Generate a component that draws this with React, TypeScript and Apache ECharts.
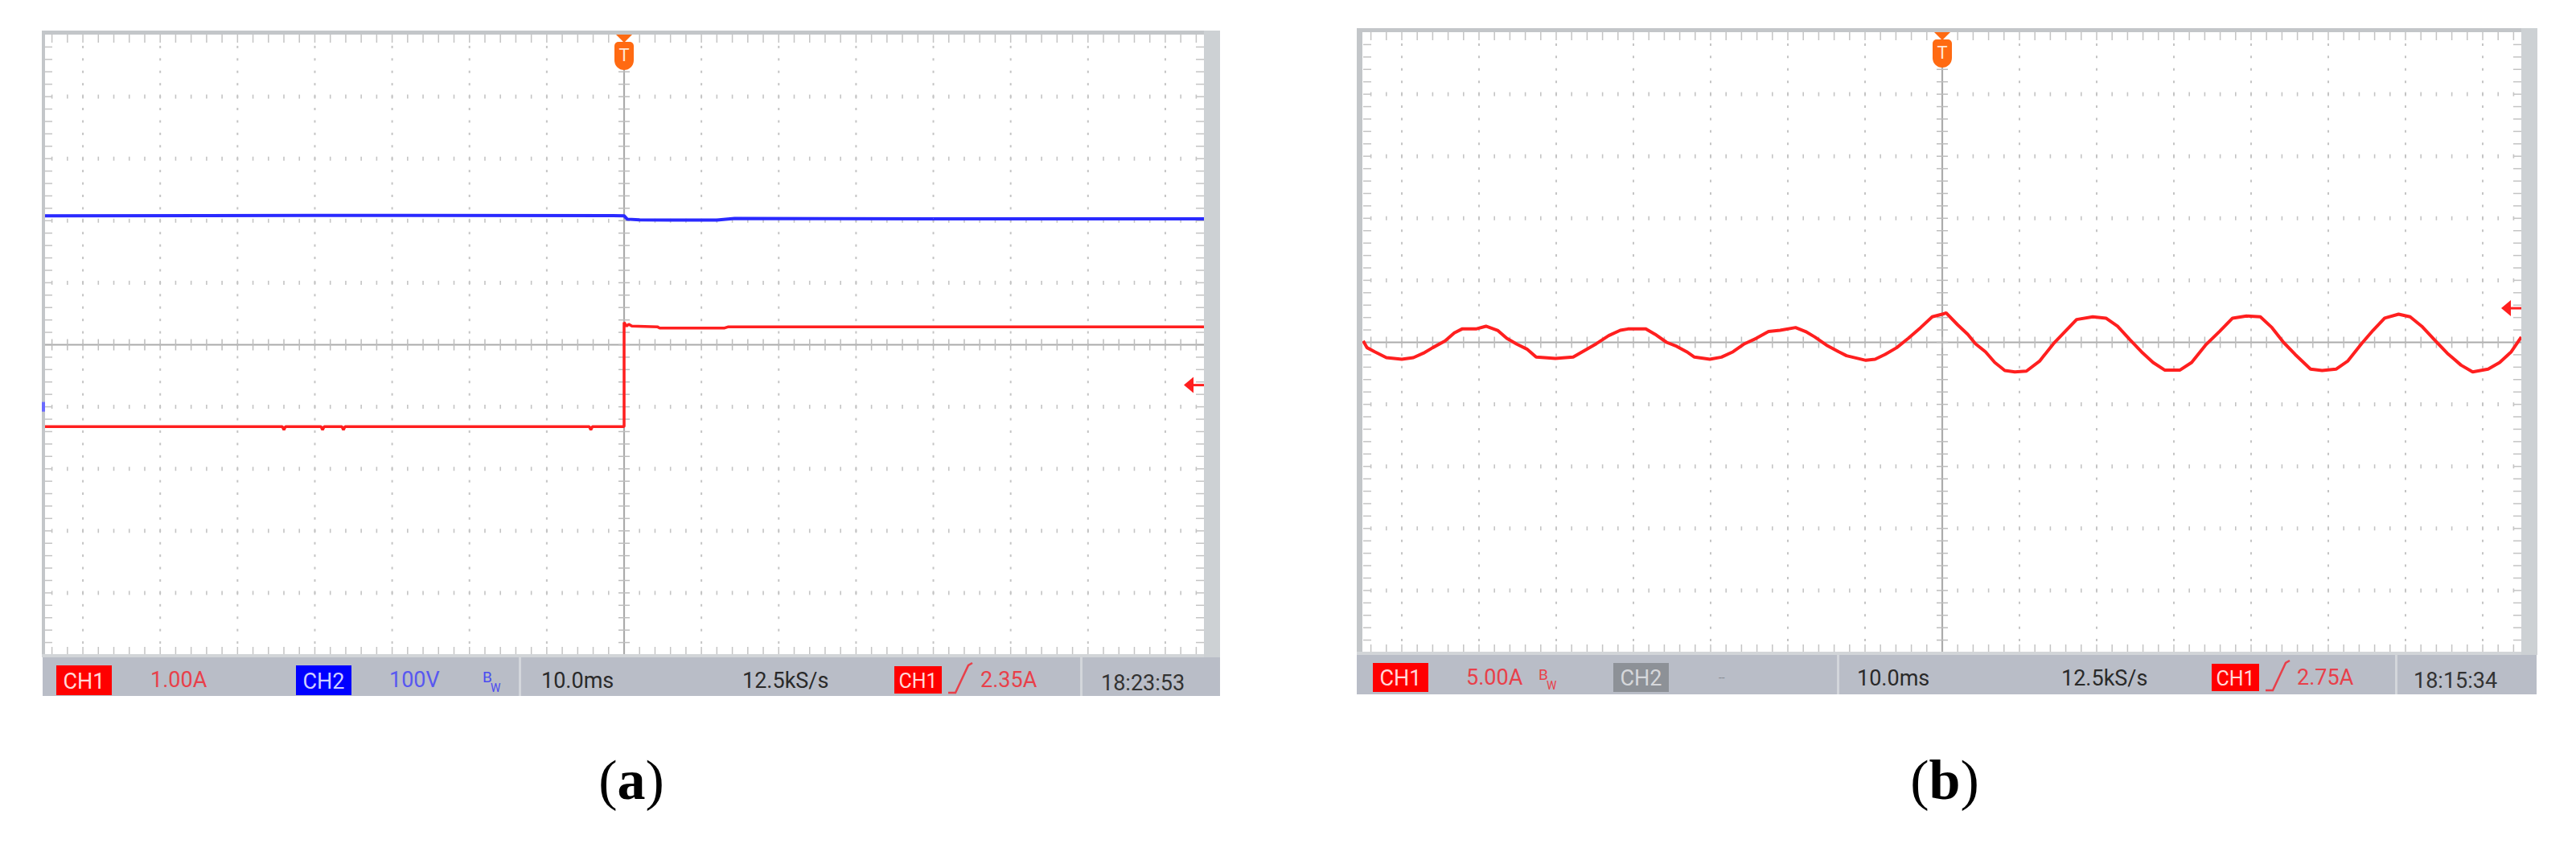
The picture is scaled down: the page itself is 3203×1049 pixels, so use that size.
import React, { useEffect, useRef } from "react";
import * as echarts from "echarts";

// ---------- data ----------
// time axis: 10.0 ms/div, 15 divisions, trigger at 0 ms
const TIME_MIN = -75;
const TIME_MAX = 75;
// graticule in divisions
const DIV_X_MIN = -7.5;
const DIV_X_MAX = 7.5;
const DIV_Y_MIN = -5;
const DIV_Y_MAX = 5;
const MAJOR_X_DIV = [-7, -6, -5, -4, -3, -2, -1, 1, 2, 3, 4, 5, 6, 7];
const MAJOR_Y_DIV = [-4, -3, -2, -1, 1, 2, 3, 4];
const MINOR_DIV = 0.2;

// panel (a): CH1 1.00 A/div (ground 3 div below centre), CH2 100 V/div (ground 1 div below centre)
const CH1_A_MIN = -2;
const CH1_A_MAX = 8;
const CH2_A_MIN = -400;
const CH2_A_MAX = 600;
const CH2_A_GROUND = 0;
const TRIG_LEVEL_A = 2.35;

// CH2 voltage (V) vs time (ms)
const CH2_A: [number, number][] = [
  [-75, 308], [-40, 308.5], [0, 308], [0.4, 302.5], [2, 301.5], [6, 301],
  [12, 301], [14.3, 303.5], [40, 303], [75, 303],
];
// CH1 current (A) vs time (ms)
const CH1_A: [number, number][] = [
  [-75, 1.68], [-44.2, 1.68], [-44, 1.63], [-43.8, 1.68], [-39.2, 1.68], [-39, 1.63],
  [-38.8, 1.68], [-36.5, 1.68], [-36.3, 1.63], [-36.1, 1.68], [-4.5, 1.68], [-4.3, 1.63],
  [-4.1, 1.68], [0, 1.68], [0, 3.36], [0.3, 3.3], [0.6, 3.33], [1, 3.3], [4.3, 3.29],
  [4.6, 3.27], [13, 3.27], [13.5, 3.29], [75, 3.29],
];

// panel (b): CH1 5.00 A/div, ground at centre
const CH1_B_MIN = -25;
const CH1_B_MAX = 25;
const TRIG_LEVEL_B = 2.75;
const CH1_B: [number, number][] = [
  [-75, 0.11], [-74.5, -0.43], [-73.5, -0.76], [-72.0, -1.23], [-70.0, -1.36], [-68.5, -1.23],
  [-67.2, -0.87], [-66.0, -0.43], [-64.4, 0.11], [-63.2, 0.76], [-62.2, 1.08], [-60.4, 1.08],
  [-59.1, 1.3], [-57.6, 0.97], [-56.4, 0.32], [-55.1, -0.15], [-53.8, -0.54], [-52.6, -1.19],
  [-50.1, -1.3], [-47.8, -1.19], [-46.3, -0.65], [-44.8, -0.11], [-43.2, 0.54], [-41.7, 0.97],
  [-40.7, 1.08], [-38.4, 1.08], [-37.2, 0.65], [-35.7, 0.0], [-34.4, -0.32], [-33.1, -0.76],
  [-32.1, -1.19], [-30.1, -1.36], [-28.6, -1.19], [-27.1, -0.76], [-25.6, -0.11], [-24.1, 0.32],
  [-22.5, 0.87], [-21.0, 0.97], [-19.0, 1.19], [-17.7, 0.87], [-16.5, 0.43], [-15.0, -0.22],
  [-13.4, -0.76], [-12.4, -1.08], [-9.9, -1.45], [-8.7, -1.36], [-7.4, -0.97], [-5.9, -0.43],
  [-4.4, 0.32], [-2.8, 1.19], [-1.3, 2.06], [0.2, 2.3], [0.5, 2.38], [2.0, 1.41], [3.3, 0.65],
  [4.3, -0.11], [5.6, -0.76], [6.8, -1.62], [8.1, -2.27], [9.4, -2.38], [10.9, -2.32],
  [12.6, -1.52], [14.4, -0.11], [15.9, 0.87], [17.4, 1.84], [19.5, 2.06], [21.2, 1.95],
  [22.7, 1.3], [24.3, 0.22], [25.8, -0.76], [27.3, -1.62], [28.8, -2.23], [30.8, -2.23],
  [32.3, -1.62], [34.1, -0.22], [35.9, 0.87], [37.6, 1.95], [39.4, 2.12], [41.2, 2.06],
  [42.7, 1.19], [44.2, 0.0], [45.7, -0.97], [47.7, -2.16], [49.2, -2.27], [51.0, -2.16],
  [52.5, -1.52], [54.3, -0.11], [55.8, 0.97], [57.3, 1.95], [59.1, 2.27], [60.6, 2.06],
  [62.1, 1.3], [63.9, 0.11], [65.4, -0.87], [67.2, -1.84], [68.7, -2.38], [70.7, -2.16],
  [72.2, -1.62], [73.7, -0.76], [75, 0.43],
];

// status bar texts
const STATUS_A = ["CH1", "1.00A", "CH2", "100V", "10.0ms", "12.5kS/s", "CH1", "2.35A", "18:23:53"];
const STATUS_B = ["CH1", "5.00A", "CH2", "--", "10.0ms", "12.5kS/s", "CH1", "2.75A", "18:15:34"];
const CAPTIONS = ["a", "b"];

// ---------- styling ----------
const RED = "#ff1f1f";
const BLUE = "#2a2aff";
const DOT = "#c4c4c4";
const CENTER = "#ababab";
const ORANGE = "#ff6a12";
const FONT = "Roboto, 'DejaVu Sans', sans-serif";
const SERIF = "'Liberation Serif', 'DejaVu Serif', serif";

function graticule(params: any, api: any) {
  const ch: any[] = [];
  const [l, t] = api.coord([DIV_X_MIN, DIV_Y_MAX]);
  const [r, b] = api.coord([DIV_X_MAX, DIV_Y_MIN]);
  const [cx, cy] = api.coord([0, 0]);
  const xs: number[] = [];
  for (let i = -37; i <= 37; i++) xs.push(api.coord([i * MINOR_DIV, 0])[0]);
  const ys: number[] = [];
  for (let i = -24; i <= 24; i++) ys.push(api.coord([0, i * MINOR_DIV])[1]);
  const rect = (x: number, y: number, w: number, h: number, fill: string) =>
    ch.push({ type: "rect", shape: { x: x - w / 2, y: y - h / 2, width: w, height: h }, style: { fill } });
  const seg = (x1: number, y1: number, x2: number, y2: number, stroke: string, lw: number) =>
    ch.push({ type: "line", shape: { x1, y1, x2, y2 }, style: { stroke, lineWidth: lw } });
  // dotted major lines
  MAJOR_X_DIV.forEach((d) => {
    const px = api.coord([d, 0])[0];
    ys.forEach((py) => rect(px, py, 2, 3, DOT));
  });
  MAJOR_Y_DIV.forEach((d) => {
    const py = api.coord([0, d])[1];
    xs.forEach((px) => rect(px, py, 1.6, 5, DOT));
  });
  // edge ticks
  xs.forEach((px) => {
    seg(px, t, px, t + 10, DOT, 1.5);
    seg(px, b - 10, px, b, DOT, 1.5);
  });
  ys.forEach((py) => {
    seg(l, py, l + 10, py, DOT, 1.5);
    seg(r - 10, py, r, py, DOT, 1.5);
  });
  // centre lines with ticks
  seg(cx, t, cx, b, CENTER, 2.2);
  seg(l, cy, r, cy, CENTER, 2.2);
  ys.forEach((py) => seg(cx - 7, py, cx + 7, py, "#bdbdbd", 1.5));
  xs.forEach((px) => seg(px, cy - 7, px, cy + 7, "#bdbdbd", 1.5));
  // trigger position marker "T"
  ch.push({ type: "rect", shape: { x: cx - 3, y: t - 5, width: 6, height: 3 }, style: { fill: "#ff9a60" } });
  ch.push({ type: "polygon", shape: { points: [[cx - 10, t], [cx + 10, t], [cx, t + 10]] }, style: { fill: ORANGE } });
  ch.push({ type: "rect", shape: { x: cx - 12, y: t + 9, width: 24, height: 35, r: [5, 5, 12, 12] }, style: { fill: ORANGE } });
  ch.push({
    type: "text",
    x: cx,
    y: t + 25,
    style: { text: "T", fill: "#ffe6d6", fontSize: 22, fontFamily: FONT, align: "center", verticalAlign: "middle" },
  });
  return { type: "group", children: ch };
}

function levelArrow(params: any, api: any) {
  const [x, y] = api.coord([api.value(0), api.value(1)]);
  return {
    type: "group",
    children: [
      { type: "polygon", shape: { points: [[x - 25, y], [x - 13, y - 10], [x - 13, y + 10]] }, style: { fill: RED } },
      { type: "line", shape: { x1: x - 14, y1: y, x2: x, y2: y }, style: { stroke: RED, lineWidth: 3 } },
    ],
  };
}

function groundMark(params: any, api: any) {
  const [x, y] = api.coord([api.value(0), api.value(1)]);
  return { type: "rect", shape: { x: x - 3, y: y - 6, width: 4, height: 12 }, style: { fill: "#6a6aff" } };
}

function txt(x: number, y: number, text: string, fill: string, fontSize = 27, align = "left") {
  return { type: "text", z: 21, x, y, style: { text, fill, fontSize, fontFamily: FONT, align, verticalAlign: "middle" } };
}
function box(x: number, y: number, w: number, h: number, fill: string) {
  return { type: "rect", z: 20, shape: { x, y, width: w, height: h }, style: { fill } };
}
function badge(x: number, y: number, w: number, h: number, fill: string, tf: string, label: string, fs: number) {
  return [box(x, y, w, h, fill), txt(x + w / 2, y + h / 2 + 1, label, tf, fs, "center")];
}
function bwIcon(x: number, y: number, fill: string) {
  return [txt(x, y - 6, "B", fill, 19), txt(x + 10, y + 8, "W", fill, 14)];
}
function slope(x: number, y: number) {
  return {
    type: "polyline",
    z: 21,
    shape: { points: [[x, y + 37], [x + 9, y + 37], [x + 25, y + 3], [x + 30, y]] },
    style: { stroke: "#e8404a", lineWidth: 2.5, fill: "none" },
  };
}

function frame(l: number, t: number, gl: number, gr: number, gb: number, sb: number, lw: number) {
  return [
    box(l, t, gr - l, 5, "#c3c6c9"),
    box(l, t, lw, sb - t, "#c3c6c9"),
    box(gr, t, 20, sb - t, "#cdd1d4"),
    box(l, gb - 1, gr - l, 4, "#d2d5d8"),
  ];
}

function statusA() {
  const y = 845;
  const s = STATUS_A;
  return [
    box(53, 817, 1464, 48, "#b9bdc7"),
    ...badge(70, 827, 69, 37, "#ff0000", "#ffd8d8", s[0], 27),
    txt(187, y, s[1], "#e8404a"),
    ...badge(368, 827, 69, 37, "#0000ff", "#cfcfff", s[2], 27),
    txt(484, y, s[3], "#5858f0"),
    ...bwIcon(600, y + 2, "#4a4af0"),
    box(645, 817, 3, 48, "#d3d6db"),
    txt(673, y + 1, s[4], "#2a2a2a"),
    txt(923, y + 1, s[5], "#2a2a2a"),
    ...badge(1112, 828, 59, 34, "#ff0000", "#ffd8d8", s[6], 25),
    slope(1179, 824),
    txt(1219, y, s[7], "#e8404a"),
    box(1343, 817, 3, 48, "#d3d6db"),
    txt(1369, y + 4, s[8], "#333333"),
  ];
}

function statusB() {
  const y = 842;
  const s = STATUS_B;
  return [
    box(1687, 814, 1467, 49, "#b9bdc7"),
    ...badge(1707, 824, 69, 36, "#ff0000", "#ffd8d8", s[0], 27),
    txt(1823, y, s[1], "#e8404a"),
    ...bwIcon(1913, y + 2, "#e8404a"),
    ...badge(2006, 824, 69, 36, "#8d9197", "#d6d8db", s[2], 27),
    txt(2137, y, s[3], "#8a8e95", 14),
    box(2284, 814, 3, 49, "#d3d6db"),
    txt(2309, y + 1, s[4], "#2a2a2a"),
    txt(2563, y + 1, s[5], "#2a2a2a"),
    ...badge(2750, 825, 59, 34, "#ff0000", "#ffd8d8", s[6], 25),
    slope(2817, 821),
    txt(2856, y, s[7], "#e8404a"),
    box(2978, 814, 3, 49, "#d3d6db"),
    txt(3001, y + 4, s[8], "#333333"),
  ];
}

function caption(x: number, letter: string) {
  return {
    type: "text",
    z: 21,
    x,
    y: 969,
    style: {
      text: "({b|" + letter + "})",
      fill: "#000",
      fontSize: 70,
      fontFamily: SERIF,
      align: "center",
      verticalAlign: "middle",
      rich: { b: { fontWeight: "bold", fontSize: 70, fontFamily: SERIF, fill: "#000" } },
    },
  };
}

export default function App() {
  const ref = useRef<HTMLDivElement>(null);
  useEffect(() => {
    document.body.style.margin = "0";
    const chart = echarts.init(ref.current!, undefined, { renderer: "svg" });
    const hiddenX = (gridIndex: number, min: number, max: number) => ({ type: "value", gridIndex, min, max, show: false });
    const hiddenY = (gridIndex: number, min: number, max: number) => ({ type: "value", gridIndex, min, max, show: false });
    chart.setOption({
      animation: false,
      backgroundColor: "#ffffff",
      grid: [
        { left: 55, top: 43, width: 1442, height: 771 },
        { left: 1695, top: 40, width: 1440, height: 771 },
      ],
      xAxis: [
        hiddenX(0, TIME_MIN, TIME_MAX),
        hiddenX(0, DIV_X_MIN, DIV_X_MAX),
        hiddenX(1, TIME_MIN, TIME_MAX),
        hiddenX(1, DIV_X_MIN, DIV_X_MAX),
      ],
      yAxis: [
        hiddenY(0, DIV_Y_MIN, DIV_Y_MAX),
        hiddenY(0, CH1_A_MIN, CH1_A_MAX),
        hiddenY(0, CH2_A_MIN, CH2_A_MAX),
        hiddenY(1, DIV_Y_MIN, DIV_Y_MAX),
        hiddenY(1, CH1_B_MIN, CH1_B_MAX),
      ],
      series: [
        { type: "custom", xAxisIndex: 1, yAxisIndex: 0, data: [[0, 0]], renderItem: graticule, silent: true, z: 1, clip: false },
        { type: "custom", xAxisIndex: 3, yAxisIndex: 3, data: [[0, 0]], renderItem: graticule, silent: true, z: 1, clip: false },
        {
          name: "CH2", type: "line", xAxisIndex: 0, yAxisIndex: 2, data: CH2_A, showSymbol: false, symbol: "none",
          lineStyle: { color: BLUE, width: 4 }, z: 5,
        },
        {
          name: "CH1", type: "line", xAxisIndex: 0, yAxisIndex: 1, data: CH1_A, showSymbol: false, symbol: "none",
          lineStyle: { color: RED, width: 3.5 }, z: 6,
        },
        {
          name: "CH1", type: "line", xAxisIndex: 2, yAxisIndex: 4, data: CH1_B, showSymbol: false, symbol: "none",
          lineStyle: { color: RED, width: 4 }, z: 6,
        },
        { type: "custom", xAxisIndex: 0, yAxisIndex: 1, data: [[TIME_MAX, TRIG_LEVEL_A]], renderItem: levelArrow, silent: true, z: 8, clip: false },
        { type: "custom", xAxisIndex: 2, yAxisIndex: 4, data: [[TIME_MAX, TRIG_LEVEL_B]], renderItem: levelArrow, silent: true, z: 8, clip: false },
        { type: "custom", xAxisIndex: 0, yAxisIndex: 2, data: [[TIME_MIN, CH2_A_GROUND]], renderItem: groundMark, silent: true, z: 30, clip: false },
      ],
      graphic: [
        ...frame(52, 38, 55, 1497, 814, 817, 4),
        ...frame(1687, 35, 1695, 3135, 811, 814, 7),
        ...statusA(),
        ...statusB(),
        caption(785, CAPTIONS[0]),
        caption(2418, CAPTIONS[1]),
      ],
    });
    return () => chart.dispose();
  }, []);
  return <div ref={ref} style={{ position: "absolute", left: 0, top: 0, width: 3203, height: 1049 }} />;
}
